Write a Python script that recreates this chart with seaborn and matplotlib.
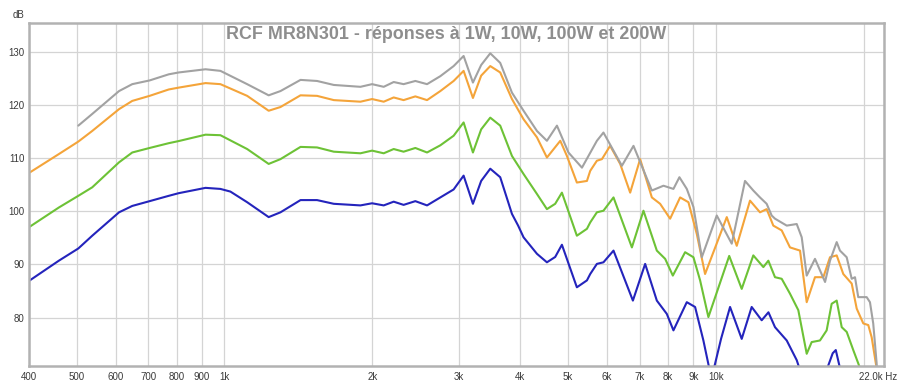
import numpy as np
import pandas as pd
import matplotlib
matplotlib.use("Agg")
import matplotlib.pyplot as plt
import matplotlib.transforms as mtransforms
import seaborn as sns

# ---------------- data ----------------
freq_1w = [400, 460, 504, 538, 610, 649, 704, 770, 807, 915, 981, 1028, 1112, 1230, 1300,
           1428, 1543, 1669, 1891, 1997, 2109, 2210, 2315, 2446, 2584, 2750, 2927, 3067,
           3204, 3330, 3475, 3641, 3847, 3960, 4062, 4325, 4532, 4711, 4862, 5215, 5467,
           5552, 5728, 5907, 6192, 6781, 7182, 7586, 7949, 8200, 8730, 9076, 9436, 9800,
           10250, 10692, 11293, 11833, 12401, 12800, 13200, 13945, 14614, 15100, 16600,
           16943, 17300, 17550, 17898, 18300]
db_1w = [86.9, 90.7, 93.0, 95.4, 99.8, 101.0, 101.9, 102.9, 103.4, 104.4, 104.2, 103.7,
         101.7, 98.9, 99.8, 102.1, 102.1, 101.4, 101.1, 101.5, 101.1, 101.8, 101.2, 101.9,
         101.1, 102.6, 104.1, 106.7, 101.4, 105.7, 108.0, 106.4, 99.5, 97.3, 95.1, 92.0,
         90.4, 91.4, 93.7, 85.7, 87.0, 88.2, 90.1, 90.4, 92.6, 83.2, 90.1, 83.2, 80.7, 77.6,
         82.9, 82.0, 75.7, 68.5, 76.0, 82.0, 76.0, 82.0, 79.5, 81.0, 78.2, 75.7, 72.0, 68.0,
         67.5, 71.0, 73.3, 73.9, 70.5, 66.0]

freq_10w = [400, 460, 504, 538, 610, 649, 704, 770, 807, 915, 981, 1112, 1230, 1300, 1428,
            1543, 1669, 1891, 1997, 2109, 2210, 2315, 2446, 2584, 2750, 2927, 3067, 3204,
            3330, 3475, 3641, 3847, 4062, 4325, 4532, 4711, 4862, 5215, 5467, 5552, 5728,
            5907, 6192, 6749, 7125, 7586, 7888, 8177, 8661, 9006, 9292, 9660, 10650, 11293,
            11923, 12498, 12794, 13199, 13620, 14160, 14723, 15314, 15676, 16297, 16815,
            17214, 17625, 18045, 18474, 19048, 19498, 20100]
db_10w = [97.0, 100.7, 102.9, 104.5, 109.2, 111.05, 111.9, 112.8, 113.2, 114.4, 114.3,
          111.7, 108.9, 109.8, 112.1, 112.0, 111.2, 110.9, 111.4, 110.9, 111.7, 111.2, 111.9,
          111.05, 112.4, 114.2, 116.7, 111.05, 115.4, 117.6, 116.1, 110.4, 107.0, 103.25,
          100.4, 101.4, 103.5, 95.4, 96.7, 97.9, 99.8, 100.1, 102.6, 93.2, 100.1, 92.6,
          91.05, 87.9, 92.3, 91.35, 87.0, 80.1, 91.6, 85.4, 91.7, 89.5, 90.7, 87.6, 87.3,
          84.5, 81.4, 73.2, 75.4, 75.7, 77.6, 82.6, 83.2, 78.2, 77.3, 73.9, 71.4, 68.0]

freq_100w = [400, 460, 504, 538, 610, 649, 704, 770, 807, 915, 981, 1112, 1230, 1300, 1428,
             1543, 1669, 1891, 1997, 2109, 2210, 2315, 2446, 2584, 2750, 2927, 3067, 3204,
             3330, 3475, 3641, 3847, 4062, 4325, 4532, 4825, 4977, 5215, 5467, 5552, 5728,
             5865, 6095, 6389, 6695, 7015, 7411, 7704, 8074, 8461, 8797, 9150, 9511, 10529,
             11033, 11740, 12302, 12693, 13095, 13620, 14160, 14842, 15314, 15920, 16555,
             17080, 17625, 18178, 18910, 19357, 19965, 20438, 20765, 21250, 21500]
db_100w = [107.2, 110.75, 113.1, 115.1, 119.2, 120.75, 121.7, 122.9, 123.25, 124.1, 123.9,
           121.7, 118.9, 119.6, 121.8, 121.7, 120.9, 120.6, 121.1, 120.6, 121.4, 120.9, 121.6,
           120.9, 122.6, 124.5, 126.4, 121.3, 125.5, 127.3, 126.1, 121.1, 117.3, 113.9,
           110.1, 113.25, 110.4, 105.4, 105.7, 107.6, 109.5, 109.8, 112.3, 108.9, 103.5,
           109.8, 102.6, 101.4, 98.6, 102.6, 101.7, 95.7, 88.2, 98.9, 93.5, 102.0, 99.8,
           100.4, 97.3, 96.4, 93.2, 92.6, 82.9, 87.6, 87.6, 91.35, 91.7, 88.2, 86.4, 81.7,
           78.9, 78.6, 76.3, 70.5, 66.0]

freq_200w = [504, 538, 610, 649, 704, 770, 807, 915, 981, 1112, 1230, 1300, 1428, 1543,
             1669, 1891, 1997, 2109, 2210, 2315, 2446, 2584, 2750, 2927, 3067, 3204, 3330,
             3475, 3641, 3847, 4062, 4325, 4532, 4750, 5013, 5341, 5728, 5907, 6440, 6800,
             7411, 7826, 8200, 8433, 8730, 9006, 9366, 10046, 10777, 11468, 11923, 12302,
             12693, 12995, 13200, 13945, 14614, 14960, 15314, 15920, 16690, 17080, 17625,
             17898, 18470, 18910, 19204, 19498, 20283, 20599, 20917, 21250, 21400]
db_200w = [116.1, 118.3, 122.6, 123.9, 124.6, 125.75, 126.1, 126.7, 126.4, 123.9, 121.8,
           122.6, 124.7, 124.5, 123.75, 123.4, 123.9, 123.4, 124.3, 123.9, 124.5, 123.9,
           125.4, 127.3, 129.2, 124.2, 127.5, 129.7, 127.9, 122.3, 118.9, 115.1, 113.25,
           116.1, 111.05, 108.2, 113.25, 114.8, 108.55, 112.3, 103.9, 104.8, 104.2, 106.4,
           104.2, 100.8, 91.35, 99.2, 93.9, 105.7, 103.9, 102.6, 101.4, 99.2, 98.6, 97.3,
           97.6, 95.1, 87.9, 91.05, 86.7, 90.7, 94.2, 92.6, 91.35, 87.3, 87.6, 83.85, 83.85,
           82.9, 78.9, 71.5, 66.0]

series_names = ["1W", "10W", "100W", "200W"]
series_colors = ["#2424bc", "#6dc236", "#f4a43a", "#a2a2a2"]

x_ticks = [400, 500, 600, 700, 800, 900, 1000, 2000, 3000, 4000, 5000, 6000, 7000,
           8000, 9000, 10000, 20000, 22000]
x_tick_labels = ["400", "500", "600", "700", "800", "900", "1k", "2k", "3k", "4k", "5k",
                 "6k", "7k", "8k", "9k", "10k", "", "22.0k Hz"]
y_ticks = [80, 90, 100, 110, 120, 130]
title = "RCF MR8N301 - réponses à 1W, 10W, 100W et 200W"

# ---------------- build table ----------------
frames = []
for name, f, d in zip(series_names,
                      [freq_1w, freq_10w, freq_100w, freq_200w],
                      [db_1w, db_10w, db_100w, db_200w]):
    frames.append(pd.DataFrame({"freq": f, "dB": d, "series": name}))
df = pd.concat(frames, ignore_index=True)

# ---------------- draw ----------------
sns.set_style("white")
plt.rcParams["font.family"] = ["Liberation Sans", "DejaVu Sans"]

fig = plt.figure(figsize=(8.99, 3.80), dpi=100)
ax = fig.add_axes([29 / 899, 1 - 366 / 380, (884 - 29) / 899, (366 - 23) / 380])

sns.lineplot(data=df, x="freq", y="dB", hue="series", hue_order=series_names,
             palette=dict(zip(series_names, series_colors)), estimator=None,
             sort=False, legend=False, linewidth=1.5, ax=ax)
for ln in ax.get_lines():
    ln.set_solid_joinstyle("round")

ax.set_xscale("log")
ax.set_xlim(400, 22000)
ax.set_ylim(70.9, 135.4)

ax.xaxis.set_minor_locator(matplotlib.ticker.NullLocator())
ax.set_xticks(x_ticks)
ax.set_xticklabels(x_tick_labels)
ax.set_yticks(y_ticks)
ax.set_yticklabels([str(v) for v in y_ticks])
ax.tick_params(axis="both", length=0, labelsize=7, colors="#3a3a3a")
ax.tick_params(axis="x", pad=4)
ax.tick_params(axis="y", pad=3)

# shift the last label ("22.0k Hz") a bit left so it stays inside the figure
lab = ax.get_xticklabels()[-1]
lab.set_transform(lab.get_transform() +
                  mtransforms.ScaledTranslation(-6 / 100, 0, fig.dpi_scale_trans))

ax.grid(True, color="#d4d4d4", linewidth=0.9)
ax.set_axisbelow(True)
for s in ax.spines.values():
    s.set_visible(True)
    s.set_color("#b2b2b2")
    s.set_linewidth(1.8)

ax.set_xlabel("")
ax.set_ylabel("")
ax.annotate("dB", xy=(0, 1), xycoords="axes fraction", xytext=(-3, 5.5),
            textcoords="offset points", ha="right", va="center", fontsize=7,
            color="#3a3a3a")
ax.text(0.4877, 0.966, title, transform=ax.transAxes, ha="center", va="center",
        fontsize=12.9, fontweight="bold", color="#8e8e8e")

fig.savefig("out.png", dpi=100, facecolor="white")
